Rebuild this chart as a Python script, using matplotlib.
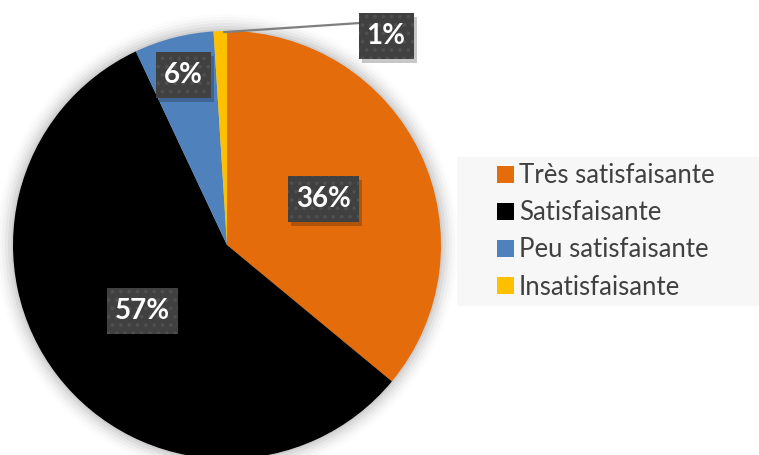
import numpy as np
import matplotlib.pyplot as plt
from matplotlib.patches import Rectangle

# --- data ---
categories = ["Très satisfaisante", "Satisfaisante", "Peu satisfaisante", "Insatisfaisante"]
shares = [36, 57, 6, 1]
colors = ["#e46c0a", "#000000", "#4f81bd", "#ffc000"]
label_dist = [0.50, 0.50, 0.82, None]   # None -> outside label with leader line

plt.rcParams["font.family"] = ["Lato", "DejaVu Sans"]
plt.rcParams["hatch.linewidth"] = 1.5

W, H = 759, 455
fig = plt.figure(figsize=(W / 100, H / 100), dpi=100)
ax = fig.add_axes([0, 0, 1, 1])

cx, cy, r = 227, 245, 214

# soft halo behind the pie
for k, a in enumerate(np.linspace(0.05, 0.01, 6)):
    ax.add_patch(plt.Circle((cx, cy), r + 2 + k * 3, color="#000000", alpha=a, zorder=0, lw=0))

# y axis runs downward, so counterclock=True draws clockwise on screen
wedges, _ = ax.pie(shares, colors=colors, startangle=-90, counterclock=True,
                   center=(cx, cy), radius=r, frame=True,
                   wedgeprops=dict(linewidth=0))
ax.set_xlim(0, W)
ax.set_ylim(H, 0)
ax.set_aspect("equal")
ax.axis("off")

FS = 20
PADX, PADY = 8, 11

def draw_box(x, y, txt):
    t = ax.text(x, y, txt, ha="center", va="center", fontsize=FS, fontweight="bold",
                color="white", zorder=5)
    fig.canvas.draw()
    bb = t.get_window_extent().transformed(ax.transData.inverted())
    w = abs(bb.x1 - bb.x0) + 2 * PADX
    h = 24 + 2 * PADY
    x0, y0 = x - w / 2, y - h / 2
    ax.add_patch(Rectangle((x0 + 3, y0 + 4), w, h, fc="#000000", alpha=0.22, lw=0, zorder=3.5))
    ax.add_patch(Rectangle((x0, y0), w, h, fc="#404040", ec="#4f4f4f", hatch="..", lw=0, zorder=4))

for w, s, d in zip(wedges, shares, label_dist):
    ang = np.deg2rad((w.theta1 + w.theta2) / 2)
    if d is not None:
        draw_box(cx + d * r * np.cos(ang), cy + d * r * np.sin(ang), f"{s}%")
    else:
        ex = cx + r * np.cos(ang)
        ey = cy + r * np.sin(ang)
        ax.plot([ex + 4, 360], [ey + 1, 23], color="#7f7f7f", lw=1.6, zorder=3)
        draw_box(386, 36, f"{s}%")

# legend panel
ax.add_patch(Rectangle((457, 157), 310, 149, fc="#f7f7f7", ec="none", zorder=1))
leg = fig.legend(wedges, categories, loc="upper left",
                 bbox_to_anchor=(487 / W, 1 - 153 / H), frameon=False,
                 fontsize=18.5, handlelength=0.65, handleheight=0.65,
                 handletextpad=0.2, labelspacing=0.47, borderaxespad=0)
for t in leg.get_texts():
    t.set_color("#404040")

fig.savefig("out.png", dpi=100)
